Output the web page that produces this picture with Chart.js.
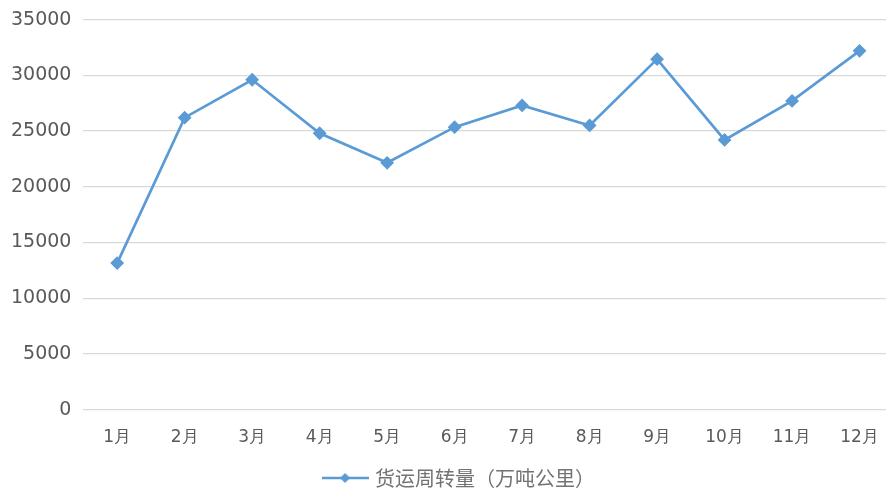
<!DOCTYPE html>
<html>
<head>
<meta charset="utf-8">
<script src="https://cdn.jsdelivr.net/npm/chart.js@4"></script>
<style>
  html, body { margin: 0; padding: 0; background: #fff; overflow: hidden; }
  #wrap { width: 901px; height: 494px; position: relative; }
</style>
</head>
<body>
<div id="wrap"><canvas id="chart"></canvas></div>
<script>
const months = ['1月', '2月', '3月', '4月', '5月', '6月', '7月', '8月', '9月', '10月', '11月', '12月'];
const freightTurnover = [13150, 26200, 29600, 24800, 22150, 25350, 27300, 25500, 31450, 24200, 27700, 32200];
const seriesName = '货运周转量（万吨公里）';
const lineColor = '#5b9bd5';

// legend icon: short line with a diamond in the middle
function legendIcon() {
    const c = document.createElement('canvas');
    c.width = 47; c.height = 12;
    const g = c.getContext('2d');
    g.strokeStyle = lineColor;
    g.lineWidth = 2.5;
    g.beginPath();
    g.moveTo(0, 6); g.lineTo(47, 6);
    g.stroke();
    g.fillStyle = lineColor;
    g.beginPath();
    g.moveTo(23.5, 1); g.lineTo(28.5, 6); g.lineTo(23.5, 11); g.lineTo(18.5, 6);
    g.closePath();
    g.fill();
    return c;
}

// nudge the legend a little to the right, like the original
const legendShift = {
    id: 'legendShift',
    afterLayout: function (chart) {
        chart.legend.left += 10;
        chart.legend.right += 10;
    }
};

const ctx = document.getElementById('chart').getContext('2d');
new Chart(ctx, {
    type: 'line',
    data: {
        labels: months,
        datasets: [{
            label: seriesName,
            data: freightTurnover,
            borderColor: lineColor,
            backgroundColor: lineColor,
            borderWidth: 2.7,
            pointStyle: 'rectRot',
            pointRadius: 5,
            pointBackgroundColor: lineColor,
            pointBorderColor: lineColor,
            tension: 0,
            fill: false
        }]
    },
    options: {
        responsive: true,
        maintainAspectRatio: false,
        animation: false,
        layout: { padding: { top: -5, left: -1, right: 0, bottom: -4 } },
        scales: {
            x: {
                offset: true,
                grid: { display: false },
                border: { display: false },
                ticks: {
                    color: '#595959',
                    font: { family: 'DejaVu Sans', size: 17 },
                    padding: 10,
                    maxRotation: 0
                }
            },
            y: {
                min: 0,
                max: 35000,
                border: { display: false },
                grid: { color: '#d9d9d9', lineWidth: 1.3, drawTicks: false },
                ticks: {
                    stepSize: 5000,
                    color: '#595959',
                    font: { family: 'DejaVu Sans', size: 19, lineHeight: 0.8 },
                    padding: 12,
                    callback: function (v) { return String(v); }
                }
            }
        },
        plugins: {
            legend: {
                position: 'bottom',
                labels: {
                    color: '#737373',
                    font: { family: 'Noto Sans CJK SC', size: 20 },
                    usePointStyle: true,
                    pointStyleWidth: 40,
                    padding: 10,
                    generateLabels: function (chart) {
                        const items = Chart.defaults.plugins.legend.labels.generateLabels(chart);
                        items.forEach(function (it) { it.pointStyle = legendIcon(); });
                        return items;
                    }
                }
            },
            tooltip: { enabled: false }
        }
    },
    plugins: [legendShift]
});
</script>
</body>
</html>
